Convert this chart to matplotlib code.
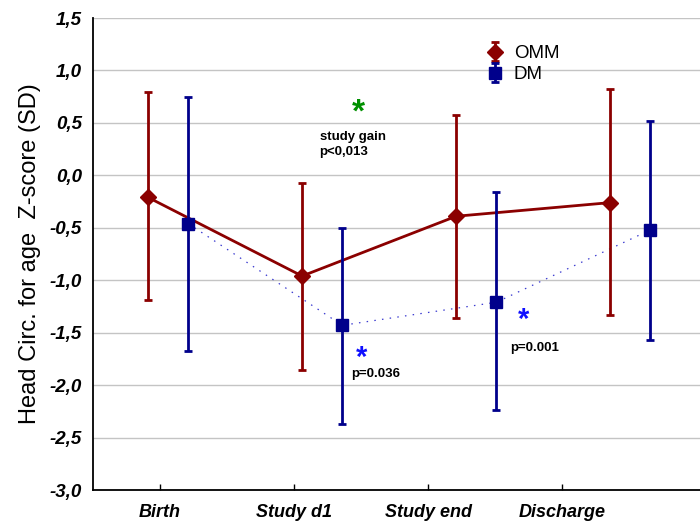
import numpy as np
import matplotlib
matplotlib.use("Agg")
import matplotlib.pyplot as plt

plt.rcParams["font.family"] = ["Liberation Sans", "DejaVu Sans"]

stages = ["Birth", "Study d1", "Study end", "Discharge"]

# z-scores: mean, upper and lower whisker ends
omm_mean = [-0.21, -0.96, -0.39, -0.26]
omm_upper = [0.79, -0.07, 0.58, 0.82]
omm_lower = [-1.19, -1.86, -1.36, -1.33]

dm_mean = [-0.46, -1.43, -1.21, -0.52]
dm_upper = [0.75, -0.50, -0.16, 0.52]
dm_lower = [-1.67, -2.37, -2.24, -1.57]

OMM_COLOR = "#8b0000"
DM_COLOR = "#00008b"

fig = plt.figure(figsize=(7.0, 5.22), dpi=100)
ax = fig.add_axes([0.133, 0.0613, 0.867, 0.9042])

idx = np.arange(len(stages))
x_omm = idx * 1.15 - 0.09
x_dm = idx * 1.15 + 0.21


def whiskers(mean, upper, lower):
    mean = np.array(mean)
    return [mean - np.array(lower), np.array(upper) - mean]


# connecting lines drawn separately so the legend keys show only marker + bar
ax.plot(x_dm, dm_mean, color="#3a3ad0", lw=0.9, ls=(0, (1.2, 5)), zorder=2)
ax.plot(x_omm, omm_mean, color=OMM_COLOR, lw=2, zorder=3)
h_dm = ax.errorbar(x_dm, dm_mean, yerr=whiskers(dm_mean, dm_upper, dm_lower),
                   fmt="s", color=DM_COLOR, ms=9, elinewidth=2, capsize=3,
                   capthick=2, zorder=3, label="DM")
h_omm = ax.errorbar(x_omm, omm_mean, yerr=whiskers(omm_mean, omm_upper, omm_lower),
                    fmt="D", color=OMM_COLOR, ms=8, elinewidth=2,
                    capsize=3, capthick=2, zorder=4, label="OMM")

ax.set_xlim(-0.5, 4.03)
ax.set_ylim(-3.0, 1.5)
ax.set_yticks(np.arange(-3.0, 1.51, 0.5))
ax.set_yticklabels([f"{v:.1f}".replace(".", ",") for v in np.arange(-3.0, 1.51, 0.5)],
                   fontsize=13.5, fontweight="bold", fontstyle="italic")
ax.set_xticks(idx)
ax.set_xticklabels(stages, fontsize=13, fontweight="bold", fontstyle="italic")
ax.tick_params(axis="both", direction="in", length=4, width=1)
ax.tick_params(axis="x", pad=10)
ax.tick_params(axis="y", pad=8, length=0)
ax.yaxis.grid(True, color="#c4c4c4", lw=1)
ax.set_axisbelow(True)
for side in ["top", "right"]:
    ax.spines[side].set_visible(False)
for side in ["left", "bottom"]:
    ax.spines[side].set_linewidth(1.3)

ax.set_ylabel("Head Circ. for age  Z-score (SD)", fontsize=17, labelpad=6)

ax.legend(handles=[h_omm, h_dm], loc="upper left", bbox_to_anchor=(0.625, 0.97),
          frameon=False, fontsize=13.5, handlelength=1.0, handletextpad=0.5,
          labelspacing=0.2, borderpad=0.2)

# significance marks
ax.text(1.48, 0.59, "*", color="#009000", fontsize=24, fontweight="bold",
        ha="center", va="center")
ax.text(1.19, 0.42, "study gain\np<0,013", fontsize=9.5, fontweight="bold",
        ha="left", va="top", linespacing=1.3)
ax.text(1.50, -1.74, "*", color="#1010ff", fontsize=21, fontweight="bold",
        ha="center", va="center")
ax.text(1.43, -1.89, "p=0.036", fontsize=9.5, fontweight="bold",
        ha="left", va="center")
ax.text(2.71, -1.38, "*", color="#1010ff", fontsize=21, fontweight="bold",
        ha="center", va="center")
ax.text(2.61, -1.65, "p=0.001", fontsize=9.5, fontweight="bold",
        ha="left", va="center")

fig.savefig("out.png", dpi=100)
plt.close(fig)
